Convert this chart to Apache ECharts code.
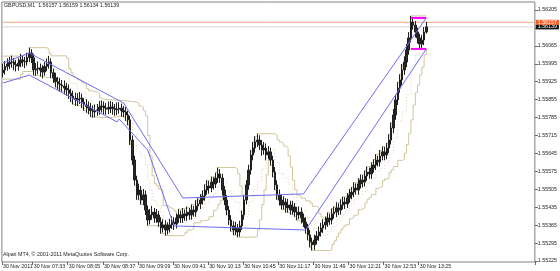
<!DOCTYPE html>
<html><head><meta charset="utf-8">
<script src="https://cdn.jsdelivr.net/npm/echarts@6/dist/echarts.min.js"></script>
<style>html,body{margin:0;padding:0;background:#fff}#c{width:560px;height:271px}</style>
</head><body><div id="c"></div>
<script>
const headerText = 'GBPUSD,M1  1.56157 1.56159 1.56134 1.56139';
const footerText = 'Alpari MT4, \u00a9 2001-2011 MetaQuotes Software Corp.';
const priceTicks = [1.55225,1.55295,1.55365,1.55435,1.55505,1.55575,1.55645,1.55715,1.55785,1.55855,1.55925,1.55995,1.56065,1.56135,1.56205];
const priceTickLabels = [1.55225,1.55295,1.55365,1.55435,1.55505,1.55575,1.55645,1.55715,1.55785,1.55855,1.55925,1.55995,1.56065,1.56205];
const timeTicks = ['07:05','07:33','08:05','08:37','09:09','09:41','10:13','10:45','11:17','11:49','12:21','12:53','13:25'];
const timeTickLabels = ['30 Nov 2011','30 Nov 07:33','30 Nov 08:05','30 Nov 08:37','30 Nov 09:09','30 Nov 09:41','30 Nov 10:13','30 Nov 10:45','30 Nov 11:17','30 Nov 11:49','30 Nov 12:21','30 Nov 12:53','30 Nov 13:25'];
const askPrice = 1.56157;
const bidPrice = 1.56139;

const opens = [
1.55960,1.55971,1.55985,1.55994,1.56000,1.56002,1.55992,1.55986,1.55998,1.56010,
1.56004,1.56002,1.56020,1.56037,1.56018,1.55971,1.55975,1.55979,1.55970,1.55963,
1.55985,1.55994,1.56002,1.55960,1.55940,1.55925,1.55916,1.55912,1.55908,1.55900,
1.55893,1.55880,1.55869,1.55860,1.55854,1.55858,1.55861,1.55845,1.55834,1.55828,
1.55822,1.55812,1.55807,1.55812,1.55815,1.55826,1.55830,1.55822,1.55818,1.55824,
1.55826,1.55820,1.55815,1.55818,1.55822,1.55812,1.55807,1.55795,1.55776,1.55697,
1.55619,1.55541,1.55483,1.55502,1.55463,1.55483,1.55424,1.55385,1.55405,1.55416,
1.55393,1.55405,1.55377,1.55354,1.55366,1.55346,1.55354,1.55366,1.55377,1.55369,
1.55393,1.55405,1.55393,1.55409,1.55401,1.55416,1.55405,1.55424,1.55416,1.55440,
1.55448,1.55463,1.55479,1.55502,1.55518,1.55510,1.55533,1.55526,1.55549,1.55565,
1.55549,1.55502,1.55463,1.55424,1.55385,1.55362,1.55346,1.55354,1.55338,1.55362,
1.55405,1.55463,1.55522,1.55580,1.55639,1.55666,1.55690,1.55697,1.55678,1.55658,
1.55666,1.55639,1.55651,1.55619,1.55572,1.55522,1.55483,1.55463,1.55444,1.55455,
1.55432,1.55444,1.55424,1.55436,1.55416,1.55405,1.55416,1.55393,1.55377,1.55354,
1.55327,1.55299,1.55288,1.55307,1.55323,1.55338,1.55354,1.55366,1.55377,1.55393,
1.55385,1.55409,1.55416,1.55432,1.55424,1.55444,1.55455,1.55448,1.55471,1.55483,
1.55494,1.55510,1.55502,1.55526,1.55541,1.55533,1.55557,1.55572,1.55565,1.55588,
1.55600,1.55619,1.55612,1.55635,1.55651,1.55639,1.55666,1.55697,1.55744,1.55795,
1.55854,1.55900,1.55932,1.55971,1.56002,1.56049,1.56096,1.56158,1.56146,1.56119,
1.56096,1.56072,1.56088,1.56119];
const highs = [
1.55995,1.56006,1.56016,1.56022,1.56027,1.56018,1.56010,1.56016,1.56034,1.56026,
1.56022,1.56038,1.56058,1.56052,1.56034,1.55998,1.56004,1.55996,1.55990,1.56002,
1.56016,1.56026,1.56016,1.55976,1.55960,1.55944,1.55940,1.55932,1.55930,1.55920,
1.55914,1.55898,1.55890,1.55882,1.55880,1.55885,1.55878,1.55862,1.55857,1.55848,
1.55842,1.55832,1.55836,1.55838,1.55850,1.55852,1.55848,1.55842,1.55848,1.55850,
1.55846,1.55838,1.55844,1.55845,1.55840,1.55830,1.55826,1.55812,1.55792,1.55715,
1.55636,1.55558,1.55527,1.55518,1.55506,1.55500,1.55442,1.55428,1.55440,1.55432,
1.55428,1.55420,1.55396,1.55388,1.55384,1.55376,1.55390,1.55400,1.55396,1.55410,
1.55428,1.55422,1.55432,1.55426,1.55438,1.55432,1.55446,1.55440,1.55462,1.55470,
1.55486,1.55500,1.55524,1.55540,1.55538,1.55554,1.55552,1.55570,1.55590,1.55584,
1.55566,1.55518,1.55482,1.55440,1.55404,1.55380,1.55378,1.55370,1.55382,1.55422,
1.55482,1.55540,1.55600,1.55658,1.55690,1.55712,1.55722,1.55716,1.55698,1.55690,
1.55684,1.55674,1.55668,1.55636,1.55592,1.55540,1.55504,1.55482,1.55478,1.55470,
1.55468,1.55460,1.55460,1.55452,1.55436,1.55438,1.55434,1.55410,1.55396,1.55370,
1.55346,1.55316,1.55328,1.55342,1.55360,1.55374,1.55388,1.55398,1.55414,1.55410,
1.55430,1.55438,1.55454,1.55450,1.55466,1.55476,1.55474,1.55490,1.55506,1.55514,
1.55532,1.55528,1.55548,1.55562,1.55560,1.55578,1.55594,1.55590,1.55610,1.55622,
1.55642,1.55636,1.55658,1.55672,1.55670,1.55686,1.55720,1.55766,1.55818,1.55874,
1.55924,1.55954,1.55994,1.56024,1.56072,1.56118,1.56182,1.56178,1.56162,1.56136,
1.56112,1.56108,1.56138,1.56159];
const lows = [
1.55942,1.55953,1.55968,1.55974,1.55980,1.55970,1.55965,1.55968,1.55982,1.55984,
1.55978,1.55988,1.56002,1.55998,1.55950,1.55948,1.55954,1.55945,1.55938,1.55948,
1.55966,1.55976,1.55940,1.55920,1.55903,1.55895,1.55888,1.55886,1.55876,1.55870,
1.55858,1.55846,1.55836,1.55830,1.55830,1.55838,1.55822,1.55812,1.55804,1.55798,
1.55788,1.55784,1.55786,1.55792,1.55796,1.55805,1.55798,1.55796,1.55798,1.55802,
1.55796,1.55792,1.55794,1.55800,1.55788,1.55786,1.55772,1.55755,1.55678,1.55600,
1.55520,1.55464,1.55464,1.55445,1.55443,1.55405,1.55363,1.55368,1.55386,1.55374,
1.55374,1.55358,1.55332,1.55336,1.55324,1.55328,1.55336,1.55350,1.55346,1.55352,
1.55374,1.55374,1.55374,1.55382,1.55382,1.55386,1.55386,1.55398,1.55398,1.55422,
1.55428,1.55446,1.55460,1.55484,1.55488,1.55494,1.55504,1.55510,1.55530,1.55530,
1.55482,1.55444,1.55404,1.55366,1.55340,1.55326,1.55326,1.55318,1.55320,1.55346,
1.55386,1.55446,1.55503,1.55562,1.55618,1.55648,1.55670,1.55658,1.55636,1.55640,
1.55618,1.55622,1.55598,1.55552,1.55502,1.55464,1.55442,1.55426,1.55426,1.55414,
1.55414,1.55406,1.55406,1.55398,1.55384,1.55388,1.55372,1.55358,1.55332,1.55306,
1.55278,1.55266,1.55268,1.55290,1.55304,1.55320,1.55334,1.55348,1.55358,1.55366,
1.55368,1.55390,1.55396,1.55404,1.55406,1.55426,1.55428,1.55432,1.55452,1.55466,
1.55474,1.55484,1.55484,1.55508,1.55512,1.55516,1.55538,1.55546,1.55546,1.55570,
1.55580,1.55594,1.55594,1.55618,1.55618,1.55622,1.55646,1.55680,1.55724,1.55776,
1.55834,1.55882,1.55912,1.55952,1.55982,1.56030,1.56078,1.56128,1.56098,1.56074,
1.56053,1.56056,1.56068,1.56113];
const closes = [
1.55971,1.55985,1.55994,1.56000,1.56002,1.55992,1.55986,1.55998,1.56010,1.56004,
1.56002,1.56020,1.56037,1.56018,1.55971,1.55975,1.55979,1.55970,1.55963,1.55985,
1.55994,1.56002,1.55960,1.55940,1.55925,1.55916,1.55912,1.55908,1.55900,1.55893,
1.55880,1.55869,1.55860,1.55854,1.55858,1.55861,1.55845,1.55834,1.55828,1.55822,
1.55812,1.55807,1.55812,1.55815,1.55826,1.55830,1.55822,1.55818,1.55824,1.55826,
1.55820,1.55815,1.55818,1.55822,1.55812,1.55807,1.55795,1.55776,1.55697,1.55619,
1.55541,1.55483,1.55502,1.55463,1.55483,1.55424,1.55385,1.55405,1.55416,1.55393,
1.55405,1.55377,1.55354,1.55366,1.55346,1.55354,1.55366,1.55377,1.55369,1.55393,
1.55405,1.55393,1.55409,1.55401,1.55416,1.55405,1.55424,1.55416,1.55440,1.55448,
1.55463,1.55479,1.55502,1.55518,1.55510,1.55533,1.55526,1.55549,1.55565,1.55549,
1.55502,1.55463,1.55424,1.55385,1.55362,1.55346,1.55354,1.55338,1.55362,1.55405,
1.55463,1.55522,1.55580,1.55639,1.55666,1.55690,1.55697,1.55678,1.55658,1.55666,
1.55639,1.55651,1.55619,1.55572,1.55522,1.55483,1.55463,1.55444,1.55455,1.55432,
1.55444,1.55424,1.55436,1.55416,1.55405,1.55416,1.55393,1.55377,1.55354,1.55327,
1.55299,1.55288,1.55307,1.55323,1.55338,1.55354,1.55366,1.55377,1.55393,1.55385,
1.55409,1.55416,1.55432,1.55424,1.55444,1.55455,1.55448,1.55471,1.55483,1.55494,
1.55510,1.55502,1.55526,1.55541,1.55533,1.55557,1.55572,1.55565,1.55588,1.55600,
1.55619,1.55612,1.55635,1.55651,1.55639,1.55666,1.55697,1.55744,1.55795,1.55854,
1.55900,1.55932,1.55971,1.56002,1.56049,1.56096,1.56158,1.56146,1.56119,1.56096,
1.56072,1.56088,1.56119,1.56139];

// [bar number, price]
const channelUpper = [[0,1.55998],[12,1.56037],[55,1.55842],[82,1.55471],[137,1.55487],[193,1.56174]];
const channelLower = [[0,1.55920],[12,1.55951],[52,1.55768],[53,1.55779],[66,1.55658],[78,1.55362],[138,1.55346],[193,1.56053]];
const boxTop = [[186,1.56174],[193,1.56174]];
const boxBottom = [[186,1.56053],[193,1.56053]];
const bidLine = [[0,bidPrice],[242,bidPrice]];
const askLine = [[0,askPrice],[242,askPrice]];

const bandUpper = [[0,1.56025],[8,1.56032],[11,1.56038],[12,1.56058],[20,1.56052],[21,1.56034],[22,1.56026],[29,1.56016],[30,1.55976],[31,1.55960],[32,1.55944],[33,1.55940],[34,1.55932],[35,1.55930],[36,1.55920],[37,1.55914],[38,1.55898],[39,1.55890],[40,1.55885],[43,1.55878],[44,1.55862],[45,1.55857],[46,1.55852],[53,1.55850],[57,1.55845],[61,1.55840],[62,1.55830],[63,1.55826],[64,1.55812],[65,1.55792],[66,1.55715],[67,1.55636],[68,1.55558],[69,1.55527],[70,1.55518],[71,1.55506],[72,1.55500],[73,1.55442],[74,1.55440],[76,1.55432],[77,1.55428],[78,1.55420],[79,1.55410],[80,1.55428],[82,1.55432],[84,1.55438],[86,1.55446],[88,1.55462],[89,1.55470],[90,1.55486],[91,1.55500],[92,1.55524],[93,1.55540],[95,1.55554],[97,1.55570],[98,1.55590],[106,1.55584],[107,1.55566],[108,1.55518],[109,1.55482],[111,1.55540],[112,1.55600],[113,1.55658],[114,1.55690],[115,1.55712],[116,1.55722],[124,1.55716],[125,1.55698],[126,1.55690],[127,1.55684],[128,1.55674],[129,1.55668],[130,1.55636],[131,1.55592],[132,1.55540],[133,1.55504],[134,1.55482],[135,1.55478],[136,1.55470],[137,1.55468],[138,1.55460],[140,1.55452],[141,1.55438],[143,1.55434],[144,1.55410],[145,1.55396],[146,1.55388],[147,1.55398],[148,1.55414],[150,1.55430],[151,1.55438],[152,1.55454],[154,1.55466],[155,1.55476],[157,1.55490],[158,1.55506],[159,1.55514],[160,1.55532],[162,1.55548],[163,1.55562],[165,1.55578],[166,1.55594],[168,1.55610],[169,1.55622],[170,1.55642],[172,1.55658],[173,1.55672],[175,1.55686],[176,1.55720],[177,1.55766],[178,1.55818],[179,1.55874],[180,1.55924],[181,1.55954],[182,1.55994],[183,1.56024],[184,1.56072],[185,1.56118],[186,1.56182],[193,1.56182]];
const bandLower = [[0,1.55935],[8,1.55953],[9,1.55965],[14,1.55950],[15,1.55948],[17,1.55945],[18,1.55938],[23,1.55920],[24,1.55903],[25,1.55895],[26,1.55888],[27,1.55886],[28,1.55876],[29,1.55870],[30,1.55858],[31,1.55846],[32,1.55836],[33,1.55830],[36,1.55822],[37,1.55812],[38,1.55804],[39,1.55798],[40,1.55788],[41,1.55784],[49,1.55786],[50,1.55792],[54,1.55788],[55,1.55786],[56,1.55772],[57,1.55755],[58,1.55678],[59,1.55600],[60,1.55520],[61,1.55464],[63,1.55445],[64,1.55443],[65,1.55405],[66,1.55363],[72,1.55332],[74,1.55324],[82,1.55328],[83,1.55336],[84,1.55346],[86,1.55352],[87,1.55374],[90,1.55382],[92,1.55386],[94,1.55398],[96,1.55422],[97,1.55428],[98,1.55446],[99,1.55460],[100,1.55482],[101,1.55444],[102,1.55404],[103,1.55366],[104,1.55340],[105,1.55326],[107,1.55318],[115,1.55320],[116,1.55346],[117,1.55386],[118,1.55446],[119,1.55503],[120,1.55562],[121,1.55618],[122,1.55598],[123,1.55552],[124,1.55502],[125,1.55464],[126,1.55442],[127,1.55426],[129,1.55414],[131,1.55406],[133,1.55398],[134,1.55384],[136,1.55372],[137,1.55358],[138,1.55332],[139,1.55306],[140,1.55278],[141,1.55266],[149,1.55268],[150,1.55290],[151,1.55304],[152,1.55320],[153,1.55334],[154,1.55348],[155,1.55358],[156,1.55366],[157,1.55368],[158,1.55390],[159,1.55396],[160,1.55404],[161,1.55406],[162,1.55426],[163,1.55428],[164,1.55432],[165,1.55452],[166,1.55466],[167,1.55474],[168,1.55484],[170,1.55508],[171,1.55512],[172,1.55516],[173,1.55538],[174,1.55546],[176,1.55570],[177,1.55580],[178,1.55594],[180,1.55618],[182,1.55622],[183,1.55646],[184,1.55680],[185,1.55724],[186,1.55776],[187,1.55834],[188,1.55882],[189,1.55912],[190,1.55952],[191,1.55982],[192,1.56030],[193,1.56053]];
const bandMiddle = [[0,1.55980],[8,1.55994],[12,1.56012],[21,1.55986],[23,1.55972],[30,1.55918],[34,1.55881],[38,1.55852],[41,1.55835],[46,1.55818],[57,1.55800],[59,1.55719],[61,1.55651],[63,1.55635],[65,1.55598],[66,1.55540],[67,1.55500],[68,1.55462],[70,1.55442],[72,1.55417],[73,1.55387],[74,1.55382],[78,1.55373],[80,1.55376],[84,1.55392],[88,1.55417],[90,1.55433],[92,1.55454],[94,1.55469],[96,1.55488],[98,1.55519],[100,1.55538],[102,1.55499],[104,1.55467],[106,1.55454],[108,1.55418],[110,1.55399],[112,1.55458],[114,1.55503],[116,1.55535],[118,1.55585],[120,1.55643],[122,1.55662],[124,1.55610],[126,1.55567],[128,1.55550],[130,1.55525],[132,1.55473],[134,1.55434],[136,1.55422],[138,1.55397],[140,1.55366],[142,1.55352],[144,1.55338],[146,1.55326],[148,1.55339],[150,1.55359],[152,1.55386],[154,1.55406],[156,1.55421],[158,1.55447],[160,1.55467],[162,1.55486],[164,1.55497],[166,1.55529],[168,1.55546],[170,1.55574],[172,1.55586],[174,1.55609],[176,1.55644],[178,1.55705],[180,1.55770],[182,1.55807],[184,1.55875],[186,1.55984],[188,1.56037],[190,1.56072],[192,1.56111],[193,1.56118]];

// 2-minute bar time slots from 07:05 (243 slots incl. empty right margin)
const categories = [];
for (let m = 7*60+5, n = 0; n < 243; n++, m += 2) {
  categories.push(String(Math.floor(m/60)).padStart(2,'0') + ':' + String(m%60).padStart(2,'0'));
}
const ohlc = opens.map((o,i)=>[o, closes[i], lows[i], highs[i]]);

const FONT = 'Liberation Sans';
const FS = 5.3;
const chart = echarts.init(document.getElementById('c'), null, {renderer:'canvas'});
const lineBase = {type:'line', symbol:'none', silent:true, animation:false};
chart.setOption({
  animation:false,
  backgroundColor:'#ffffff',
  title:[
    {text: headerText, left:4, top:3, padding:0, textStyle:{fontSize:FS, fontWeight:'normal', color:'#222', fontFamily:FONT}},
    {text: footerText, left:3, top:252, padding:0, textStyle:{fontSize:FS, fontWeight:'normal', color:'#222', fontFamily:FONT}}
  ],
  grid:{left:1, right:21, top:2, bottom:9, show:true, borderColor:'#808080', borderWidth:1},
  xAxis:{type:'category', data:categories, boundaryGap:true,
    axisLine:{show:false},
    axisTick:{show:true, length:3, interval:(i,v)=>timeTicks.includes(v), lineStyle:{color:'#666'}},
    axisLabel:{interval:(i,v)=>timeTicks.includes(v), formatter:(v)=>timeTickLabels[timeTicks.indexOf(v)] || '', align:'left', fontSize:FS, color:'#222', margin:2, fontFamily:FONT},
    splitLine:{show:false}},
  yAxis:{type:'value', position:'right', min:1.552211, max:1.562362, scale:true,
    axisLine:{show:false},
    axisTick:{show:true, length:3, customValues:priceTicks, lineStyle:{color:'#666'}},
    axisLabel:{customValues:priceTickLabels, formatter:(v)=>v.toFixed(5), fontSize:FS, color:'#222', margin:3, fontFamily:FONT},
    splitLine:{show:false}},
  series:[
    Object.assign({}, lineBase, {name:'bid', data:bidLine, lineStyle:{color:'#d4d4d4', width:1}, z:1,
      endLabel:{show:true, formatter:bidPrice.toFixed(5), distance:2, color:'#fff', backgroundColor:'#111', fontSize:FS, fontFamily:FONT, lineHeight:5, padding:[0,2,0,2]}}),
    Object.assign({}, lineBase, {name:'ask', data:askLine, lineStyle:{color:'#f6a582', width:1}, z:1,
      endLabel:{show:true, formatter:askPrice.toFixed(5), distance:2, color:'#fff', backgroundColor:'#ff5a1f', fontSize:FS, fontFamily:FONT, lineHeight:5, padding:[0,2,0,2]}}),
    Object.assign({}, lineBase, {name:'bandUpper', data:bandUpper, step:'end', lineStyle:{color:'#d2c69c', width:1}, z:2}),
    Object.assign({}, lineBase, {name:'bandLower', data:bandLower, step:'end', lineStyle:{color:'#d2c69c', width:1}, z:2}),
    Object.assign({}, lineBase, {name:'bandMiddle', data:bandMiddle, step:'end', lineStyle:{color:'#ddd3ae', width:1, type:[1,2]}, z:2}),
    {type:'candlestick', name:'GBPUSD', data:ohlc, barWidth:2, silent:true, z:3,
      itemStyle:{color:'#2b2b2b', color0:'#2b2b2b', borderColor:'#1e1e1e', borderColor0:'#1e1e1e', borderWidth:1}},
    Object.assign({}, lineBase, {name:'chUp', data:channelUpper, lineStyle:{color:'#6d6df2', width:1}, z:4}),
    Object.assign({}, lineBase, {name:'chLo', data:channelLower, lineStyle:{color:'#6d6df2', width:1}, z:4}),
    Object.assign({}, lineBase, {name:'boxTop', data:boxTop, lineStyle:{color:'#ff00ff', width:2}, z:5}),
    Object.assign({}, lineBase, {name:'boxBottom', data:boxBottom, lineStyle:{color:'#ff00ff', width:2}, z:5})
  ]
});
</script></body></html>
